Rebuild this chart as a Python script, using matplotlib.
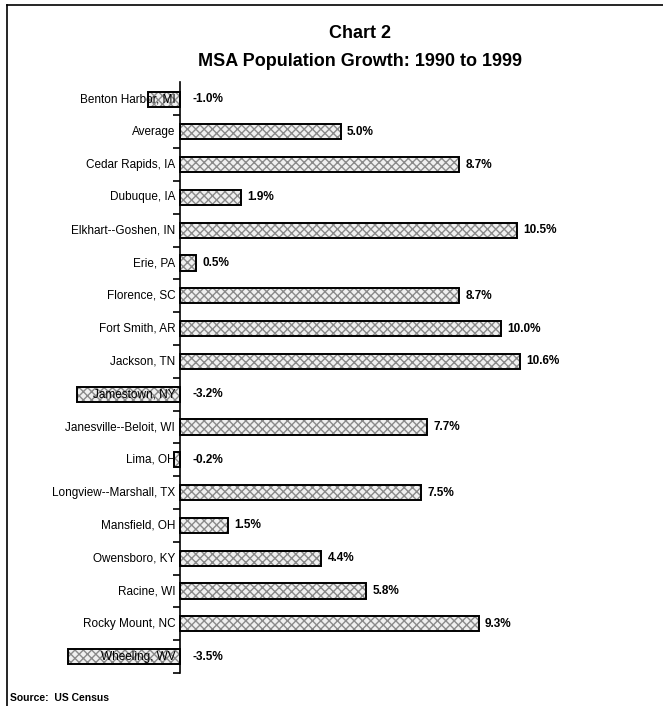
import matplotlib
matplotlib.use("Agg")
import matplotlib.pyplot as plt
from matplotlib.lines import Line2D

plt.rcParams['font.family'] = ['Liberation Sans', 'DejaVu Sans']

# data
msas = ["Benton Harbor, MI", "Average", "Cedar Rapids, IA", "Dubuque, IA",
        "Elkhart--Goshen, IN", "Erie, PA", "Florence, SC", "Fort Smith, AR",
        "Jackson, TN", "Jamestown, NY", "Janesville--Beloit, WI", "Lima, OH",
        "Longview--Marshall, TX", "Mansfield, OH", "Owensboro, KY", "Racine, WI",
        "Rocky Mount, NC", "Wheeling, WV"]
growth = [-1.0, 5.0, 8.7, 1.9, 10.5, 0.5, 8.7, 10.0, 10.6, -3.2, 7.7, -0.2,
          7.5, 1.5, 4.4, 5.8, 9.3, -3.5]

W, H = 663, 706
fig = plt.figure(figsize=(W / 100, H / 100), dpi=100)

# axes: 60..640 px wide, 82..673 px tall
ax = fig.add_axes([60 / W, 1 - 673 / H, 580 / W, (673 - 82) / H])
ppu = 32.1  # pixels per percent
ax.set_xlim(-120 / ppu, 460 / ppu)
ax.set_ylim(len(msas) - 0.5, -0.52)

ypos = list(range(len(msas)))
# dithered fill, then a crisp black outline on top
ax.barh(ypos, growth, height=0.46, color='#f0f0f0', hatch='xxxx',
        edgecolor='#8a8a8a', linewidth=0, zorder=2)
ax.barh(ypos, growth, height=0.46, fill=False, edgecolor='black', linewidth=1.4,
        zorder=3)

for sp in ['top', 'right', 'bottom']:
    ax.spines[sp].set_visible(False)
ax.spines['left'].set_position(('data', 0))
ax.spines['left'].set_linewidth(1.2)
ax.set_xticks([])
ax.set_yticks([])
ax.set_yticks([i + 0.5 for i in ypos], minor=True)
ax.tick_params(axis='y', which='minor', length=5, width=1.2, labelleft=False)

for i, (name, v) in enumerate(zip(msas, growth)):
    # category names sit on top so the negative bars don't hide them
    ax.text(-0.15, i, name, ha='right', va='center', fontsize=8.5, zorder=5)
    lab = f"{v:.1f}%"
    if v < 0:
        ax.text(0.38, i, lab, ha='left', va='center', fontsize=8.5, fontweight='bold')
    else:
        ax.text(v + 0.2, i, lab, ha='left', va='center', fontsize=8.5, fontweight='bold')

fig.text(360 / W, 1 - 33 / H, "Chart 2", ha='center', va='center',
         fontsize=13, fontweight='bold')
fig.text(360 / W, 1 - 61 / H, "MSA Population Growth: 1990 to 1999", ha='center',
         va='center', fontsize=13, fontweight='bold')
fig.text(10 / W, 1 - 698 / H, "Source:  US Census", ha='left', va='center',
         fontsize=7.5, fontweight='bold')

# outer frame (left and top edges)
fig.add_artist(Line2D([7 / W, 7 / W], [0, 1 - 5 / H], transform=fig.transFigure,
                      color='black', linewidth=1.2))
fig.add_artist(Line2D([7 / W, 1], [1 - 5 / H, 1 - 5 / H], transform=fig.transFigure,
                      color='black', linewidth=1.2))

fig.savefig("out.png", dpi=100)
